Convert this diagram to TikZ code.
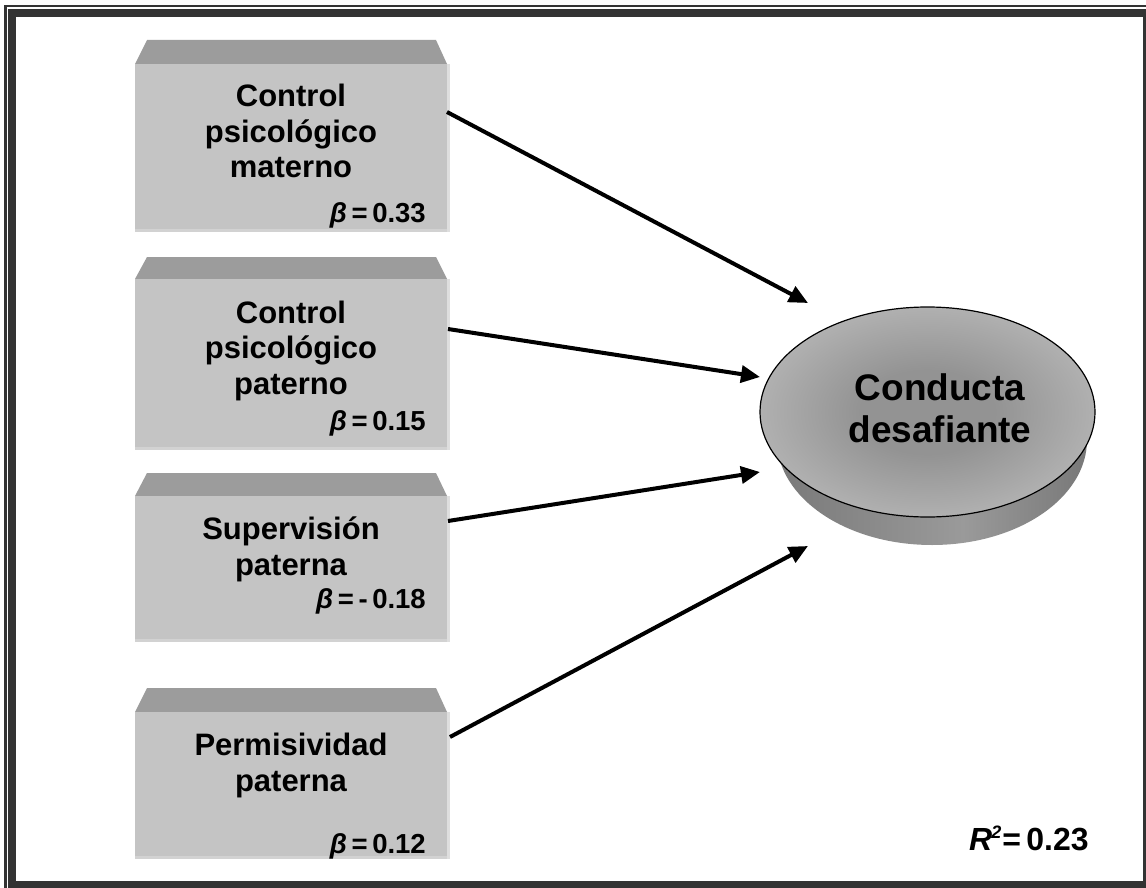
\documentclass[tikz,border=0pt]{standalone}
\usepackage{fontspec}
\setmainfont{Liberation Sans}
\usetikzlibrary{arrows.meta,calc}
\definecolor{framec}{HTML}{333333}
\definecolor{frontc}{HTML}{C4C4C4}
\definecolor{topc}{HTML}{9C9C9C}
\definecolor{edgec}{HTML}{DEDEDE}
\definecolor{botc}{HTML}{D2D2D2}
\definecolor{ec0}{HTML}{939393}
\definecolor{ec1}{HTML}{BABABA}
\definecolor{ec2}{HTML}{DCDCDC}
\definecolor{sc0}{HTML}{5E5E5E}
\definecolor{sc1}{HTML}{9A9A9A}
\definecolor{sc2}{HTML}{4E4E4E}
\pgfdeclareradialshading{topsh}{\pgfpoint{0bp}{0bp}}{color(0bp)=(ec0); color(10bp)=(ec0); color(30bp)=(ec1); color(45bp)=(ec2); color(50bp)=(ec2)}
\pgfdeclarehorizontalshading{sidesh}{100bp}{color(0bp)=(sc0); color(55bp)=(sc1); color(100bp)=(sc2)}
\newcommand\gbox[4]{%
  \fill[topc] (147,#2) -- (436,#2) -- (447,#3) -- (135,#3) -- cycle;
  \pgfmathsetmacro\bh{#4-#3}%
  \node[frontbox, minimum height=\bh pt, anchor=north west] (#1) at (135,#3) {};
  \fill[edgec] (447,#3) rectangle (450,#4);
  \fill[botc] (135,{#4-3}) rectangle (447,#4);
}
\begin{document}
\begin{tikzpicture}[x=1pt,y=-1pt,
  frontbox/.style={fill=frontc, draw=none, minimum width=312pt, inner sep=0pt, outer sep=0pt},
  title/.style={font=\fontsize{31}{35.5}\bfseries, align=center, anchor=base, inner sep=0pt},
  betalab/.style={font=\fontsize{27.5}{30}\bfseries, anchor=base east, inner sep=0pt},
  etext/.style={font=\fontsize{37}{42}\bfseries, align=center, anchor=base, inner sep=0pt},
  arr/.style={line width=4pt, -{Triangle[length=19pt,width=17pt]}}]
\useasboundingbox (0,0) rectangle (1146,888);
\fill[white] (0,0) rectangle (1146,888);
% frame
\draw[framec, line width=2.5pt] (5.3,6) rectangle (1152,894);
\draw[framec, line width=8pt] (12,13) rectangle (1147,884.5);
% boxes
\gbox{b1}{40}{64}{232}
\gbox{b2}{257}{279}{450}
\gbox{b3}{473}{496}{642}
\gbox{b4}{688}{712}{859}
% anchor=base of a multi-line node = baseline of its last line
\node[title] (t1) at (291,178) {Control\\psicológico\\materno};
\node[title] (t2) at (291,394) {Control\\psicológico\\paterno};
\node[title] (t3) at (291,575) {Supervisión\\paterna};
\node[title] (t4) at (291,791) {Permisividad\\paterna};
\node[betalab] (be1) at (426,222) {\textit{β}\,=\,0.33};
\node[betalab] (be2) at (426,430) {\textit{β}\,=\,0.15};
\node[betalab] (be3) at (426,608) {\textit{β}\,=\,-\,0.18};
\node[betalab] (be4) at (426,853) {\textit{β}\,=\,0.12};
% cylinder
\shade[shading=sidesh] (932,440) ellipse [x radius=155, y radius=105];
\shade[shading=topsh, draw=black, line width=1.2pt] (927.5,412) ellipse [x radius=167.5, y radius=105];
\node[etext] (cd) at (940,442) {Conducta\\desafiante};
% R2
\node[font=\fontsize{32}{34}\bfseries, anchor=base west, inner sep=0pt] (r2) at (969,850)
  {\textit{R}\kern-1pt\raisebox{12pt}{\fontsize{18}{18}\selectfont\textit{2}}\kern1pt=\,0.23};
% arrows
\coordinate (s1) at (447,112); \coordinate (e1) at (808,303);
\coordinate (s2) at (448,329); \coordinate (e2) at (760,377);
\coordinate (s3) at (448,521); \coordinate (e3) at (760,472);
\coordinate (s4) at (450,737); \coordinate (e4) at (808,546);
\draw[arr] (s1) -- (e1);
\draw[arr] (s2) -- (e2);
\draw[arr] (s3) -- (e3);
\draw[arr] (s4) -- (e4);
\end{tikzpicture}
\end{document}
